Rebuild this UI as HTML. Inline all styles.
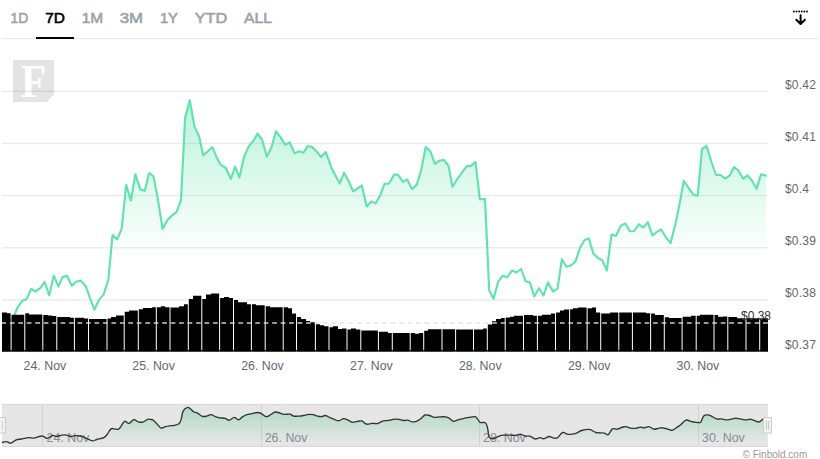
<!DOCTYPE html><html><head><meta charset="utf-8"><style>html,body{margin:0;padding:0;background:#fff;width:820px;height:459px;overflow:hidden}svg{display:block}text{font-family:"Liberation Sans",sans-serif}</style></head><body>
<svg width="820" height="459" viewBox="0 0 820 459">
<defs>
<linearGradient id="ga" gradientUnits="userSpaceOnUse" x1="0" y1="95" x2="0" y2="258"><stop offset="0" stop-color="#5ee3aa" stop-opacity="0.45"/><stop offset="1" stop-color="#5ee3aa" stop-opacity="0"/></linearGradient>
<linearGradient id="gn" gradientUnits="userSpaceOnUse" x1="0" y1="406" x2="0" y2="442"><stop offset="0" stop-color="#5ec89a" stop-opacity="0.45"/><stop offset="1" stop-color="#5ec89a" stop-opacity="0"/></linearGradient>
<clipPath id="cp"><rect x="2" y="38" width="766" height="313"/></clipPath>
</defs>
<text x="10.5" y="23" font-size="15.2" fill="#9ba1ab" stroke="#9ba1ab" stroke-width="0.6" textLength="17.7" lengthAdjust="spacingAndGlyphs">1D</text>
<text x="45.3" y="23" font-size="15.2" fill="#000" stroke="#000" stroke-width="0.6" textLength="19.7" lengthAdjust="spacingAndGlyphs">7D</text>
<text x="81.7" y="23" font-size="15.2" fill="#9ba1ab" stroke="#9ba1ab" stroke-width="0.6" textLength="21.4" lengthAdjust="spacingAndGlyphs">1M</text>
<text x="119.7" y="23" font-size="15.2" fill="#9ba1ab" stroke="#9ba1ab" stroke-width="0.6" textLength="23.4" lengthAdjust="spacingAndGlyphs">3M</text>
<text x="159.9" y="23" font-size="15.2" fill="#9ba1ab" stroke="#9ba1ab" stroke-width="0.6" textLength="18.1" lengthAdjust="spacingAndGlyphs">1Y</text>
<text x="194.7" y="23" font-size="15.2" fill="#9ba1ab" stroke="#9ba1ab" stroke-width="0.6" textLength="32.6" lengthAdjust="spacingAndGlyphs">YTD</text>
<text x="243.9" y="23" font-size="15.2" fill="#9ba1ab" stroke="#9ba1ab" stroke-width="0.6" textLength="28.1" lengthAdjust="spacingAndGlyphs">ALL</text>
<rect x="2" y="38" width="816" height="1" fill="#e6e8ec"/>
<rect x="36" y="37" width="38" height="2" fill="#000"/>
<circle cx="793.9" cy="11.5" r="0.95" fill="#000"/>
<circle cx="796.52" cy="11.5" r="0.95" fill="#000"/>
<circle cx="799.14" cy="11.5" r="0.95" fill="#000"/>
<circle cx="801.76" cy="11.5" r="0.95" fill="#000"/>
<circle cx="804.38" cy="11.5" r="0.95" fill="#000"/>
<circle cx="807" cy="11.5" r="0.95" fill="#000"/>
<path d="M800.6 15.2 V23.8 M796.3 19.7 L800.6 24 L804.9 19.7" fill="none" stroke="#000" stroke-width="2" stroke-linecap="round" stroke-linejoin="round"/>
<path d="M13 60 H54 V94 L47 102 H13 Z" fill="#e4e4e4"/>
<text x="21" y="97" font-size="47" font-weight="bold" fill="#fff" textLength="25" lengthAdjust="spacingAndGlyphs" style="font-family:'Liberation Serif',serif">F</text>
<rect x="2" y="90.7" width="766" height="1.3" fill="#000" fill-opacity="0.085"/>
<rect x="2" y="142.84" width="766" height="1.3" fill="#000" fill-opacity="0.085"/>
<rect x="2" y="194.98" width="766" height="1.3" fill="#000" fill-opacity="0.085"/>
<rect x="2" y="247.12" width="766" height="1.3" fill="#000" fill-opacity="0.085"/>
<rect x="2" y="299.26" width="766" height="1.3" fill="#000" fill-opacity="0.085"/>
<g clip-path="url(#cp)">
<path d="M2 334 L7 326 L11 320 L14.7 314.5 L17.6 307.5 L22.1 301 L26.7 298.9 L31.3 288.9 L35.4 291.5 L40.5 287.9 L44.6 282 L49.2 295.5 L53.8 275.5 L58.4 286.7 L62.5 277.1 L66.9 275.7 L71.8 285.8 L76.1 281.8 L80.8 280.6 L85.7 286.2 L90 298 L94.4 309.7 L98.8 300.1 L103.7 294.4 L108.4 279.2 L112.5 235.1 L117.2 239.4 L121.7 228.6 L126.2 185.1 L130.9 200.6 L135.4 174.3 L140.3 189.4 L144.8 190.8 L149.1 173.1 L153.4 176.1 L157.9 199.2 L162.6 229 L167.5 219.9 L172.2 215.3 L176.5 212.2 L181 200 L185.1 117.9 L189.8 100.4 L194.5 126.6 L199 136.1 L203.2 155.3 L207.8 151.2 L212.4 147.1 L216.8 157.9 L221.1 165.2 L225.8 168 L230.9 179 L235.1 166.6 L239.4 177.5 L244.1 156.6 L248.9 146.1 L253.3 140.9 L257.6 133.6 L262 139.5 L266.9 156.6 L271.6 147 L275.9 131.3 L280.6 137.1 L285.1 144.7 L289.8 142.6 L294.6 153.4 L299.1 151.3 L303.5 152.6 L307.8 146.2 L311.8 146.9 L316.9 151.8 L321.2 157 L325.8 152.1 L331.3 167.4 L335.7 176.1 L339.7 183.6 L344.1 172.7 L348.4 180.8 L353.1 191.3 L357.5 188.4 L361.8 185.4 L366.7 206.5 L371.4 201.5 L375.8 203.2 L380.3 194.9 L384.5 183.9 L389 183.5 L394.3 174.5 L398.1 174.8 L403 181.8 L407.3 179.5 L412 189.1 L416.7 184.9 L421.1 170.5 L425.7 147 L430.4 151.3 L434.9 163.8 L439.8 160.5 L443.8 160 L448.5 165.8 L452.5 186.7 L457.2 179.2 L461.9 172.7 L466.8 166.1 L471.1 166.1 L475.5 161.8 L479.8 199.2 L485 198.9 L489.2 290.6 L493.6 298.8 L498.1 281.8 L503 275.5 L507 277.5 L511.9 270.6 L516.2 272.5 L521.1 269 L525.6 281.4 L529.9 282.4 L534.2 296.5 L539 288.2 L543.5 295.5 L548.1 282.4 L553 291.6 L557.5 288.6 L561.9 259.2 L566.4 266.7 L570.9 265.5 L575.6 261.2 L580.1 247.5 L584.6 240 L588.9 238.6 L593.4 253.7 L598.3 258.3 L602.3 260.4 L606.8 270.5 L611.5 234.5 L615.9 236 L620.8 225.8 L625.5 223.5 L629.8 231.3 L634.2 231 L638.9 224.4 L643.4 227.5 L647.8 222.1 L652.5 235.7 L656.8 231.9 L661.1 229.3 L665.8 237.1 L670.6 243.1 L675.4 223.9 L679 207.1 L683.8 180.8 L688.6 188 L693.4 194.7 L697.7 195.6 L702 149.2 L706.6 146 L711.3 161.5 L716 175 L720.6 175 L725.3 178.6 L729.6 175.7 L734 167.1 L738.3 170.4 L743.2 178.8 L747.4 175.3 L751.9 180.5 L756.6 188.9 L761 174.4 L765.9 175.7 L765.9 351 L2 351 Z" fill="url(#ga)"/>
<path d="M2 334 L7 326 L11 320 L14.7 314.5 L17.6 307.5 L22.1 301 L26.7 298.9 L31.3 288.9 L35.4 291.5 L40.5 287.9 L44.6 282 L49.2 295.5 L53.8 275.5 L58.4 286.7 L62.5 277.1 L66.9 275.7 L71.8 285.8 L76.1 281.8 L80.8 280.6 L85.7 286.2 L90 298 L94.4 309.7 L98.8 300.1 L103.7 294.4 L108.4 279.2 L112.5 235.1 L117.2 239.4 L121.7 228.6 L126.2 185.1 L130.9 200.6 L135.4 174.3 L140.3 189.4 L144.8 190.8 L149.1 173.1 L153.4 176.1 L157.9 199.2 L162.6 229 L167.5 219.9 L172.2 215.3 L176.5 212.2 L181 200 L185.1 117.9 L189.8 100.4 L194.5 126.6 L199 136.1 L203.2 155.3 L207.8 151.2 L212.4 147.1 L216.8 157.9 L221.1 165.2 L225.8 168 L230.9 179 L235.1 166.6 L239.4 177.5 L244.1 156.6 L248.9 146.1 L253.3 140.9 L257.6 133.6 L262 139.5 L266.9 156.6 L271.6 147 L275.9 131.3 L280.6 137.1 L285.1 144.7 L289.8 142.6 L294.6 153.4 L299.1 151.3 L303.5 152.6 L307.8 146.2 L311.8 146.9 L316.9 151.8 L321.2 157 L325.8 152.1 L331.3 167.4 L335.7 176.1 L339.7 183.6 L344.1 172.7 L348.4 180.8 L353.1 191.3 L357.5 188.4 L361.8 185.4 L366.7 206.5 L371.4 201.5 L375.8 203.2 L380.3 194.9 L384.5 183.9 L389 183.5 L394.3 174.5 L398.1 174.8 L403 181.8 L407.3 179.5 L412 189.1 L416.7 184.9 L421.1 170.5 L425.7 147 L430.4 151.3 L434.9 163.8 L439.8 160.5 L443.8 160 L448.5 165.8 L452.5 186.7 L457.2 179.2 L461.9 172.7 L466.8 166.1 L471.1 166.1 L475.5 161.8 L479.8 199.2 L485 198.9 L489.2 290.6 L493.6 298.8 L498.1 281.8 L503 275.5 L507 277.5 L511.9 270.6 L516.2 272.5 L521.1 269 L525.6 281.4 L529.9 282.4 L534.2 296.5 L539 288.2 L543.5 295.5 L548.1 282.4 L553 291.6 L557.5 288.6 L561.9 259.2 L566.4 266.7 L570.9 265.5 L575.6 261.2 L580.1 247.5 L584.6 240 L588.9 238.6 L593.4 253.7 L598.3 258.3 L602.3 260.4 L606.8 270.5 L611.5 234.5 L615.9 236 L620.8 225.8 L625.5 223.5 L629.8 231.3 L634.2 231 L638.9 224.4 L643.4 227.5 L647.8 222.1 L652.5 235.7 L656.8 231.9 L661.1 229.3 L665.8 237.1 L670.6 243.1 L675.4 223.9 L679 207.1 L683.8 180.8 L688.6 188 L693.4 194.7 L697.7 195.6 L702 149.2 L706.6 146 L711.3 161.5 L716 175 L720.6 175 L725.3 178.6 L729.6 175.7 L734 167.1 L738.3 170.4 L743.2 178.8 L747.4 175.3 L751.9 180.5 L756.6 188.9 L761 174.4 L765.9 175.7" fill="none" stroke="#62e2ac" stroke-width="2.15" stroke-linejoin="round" stroke-linecap="round"/>
</g>
<path d="M2 351.5 V312.6 H7 V313.3 H10.6 V351.5 Z M11.6 351.5 V314.7 H16 V314.7 H20 V314.7 H24.3 V351.5 Z M25.3 351.5 V313.2 H29 V314.4 H34 V314.4 H38 V314.5 H42.3 V351.5 Z M43.3 351.5 V315 H48 V315.6 H52 V316 H56.3 V351.5 Z M57.3 351.5 V317.1 H61 V317.1 H66 V317.1 H70 V317.8 H73.9 V351.5 Z M74.9 351.5 V317.8 H79 V317.8 H84 V318.5 H88 V351.5 Z M89 351.5 V319 H93 V319 H97 V319 H102 V319 H106.5 V351.5 Z M107.5 351.5 V318.5 H111 V317 H116 V315.6 H120 V315.4 H123.7 V351.5 Z M124.7 351.5 V311.8 H129 V310.6 H134 V310.6 H137.8 V351.5 Z M138.8 351.5 V309.2 H143 V308.1 H147 V308.1 H152 V307.2 H155.8 V351.5 Z M156.8 351.5 V307.2 H161 V306.2 H165 V307.2 H169.5 V351.5 Z M170.5 351.5 V307.4 H174 V307.4 H179 V306.2 H184 V304.2 H187.8 V351.5 Z M188.8 351.5 V299.1 H193 V295.7 H197 V295.7 H201.3 V351.5 Z M202.3 351.5 V299.1 H206 V294.6 H211 V293.6 H215 V293.6 H219.1 V351.5 Z M220.1 351.5 V297.9 H224 V296.9 H229 V297.9 H233 V351.5 Z M234 351.5 V300.1 H238 V302.3 H242 V302.3 H247 V304.2 H250.9 V351.5 Z M251.9 351.5 V304.2 H256 V305.2 H261 V305.2 H264.7 V351.5 Z M265.7 351.5 V306.2 H270 V307.2 H274 V307.2 H279 V307.2 H282.7 V351.5 Z M283.7 351.5 V307.2 H288 V308.2 H292 V313.5 H296 V351.5 Z M297 351.5 V317 H301 V318.9 H306 V321.1 H310 V322.3 H314.9 V351.5 Z M315.9 351.5 V324.3 H320 V325.2 H324 V326.2 H328.5 V351.5 Z M329.5 351.5 V327.2 H333 V326.2 H338 V329.1 H342 V328.4 H346.5 V351.5 Z M347.5 351.5 V329.6 H351 V328.6 H356 V329.4 H360.3 V351.5 Z M361.3 351.5 V330.6 H365 V330.6 H369 V330.6 H374 V330.6 H377.9 V351.5 Z M378.9 351.5 V331.8 H383 V331.8 H388 V333 H391.8 V351.5 Z M392.8 351.5 V333 H397 V333 H401 V333 H406 V333 H409.7 V351.5 Z M410.7 351.5 V333 H415 V333.8 H419 V333 H423.2 V351.5 Z M424.2 351.5 V330.7 H428 V329.3 H433 V329.3 H437 V329.3 H441.5 V351.5 Z M442.5 351.5 V329.3 H446 V329.3 H451 V329.3 H455.1 V351.5 Z M456.1 351.5 V329.5 H460 V329.5 H465 V329.5 H469 V329.5 H473 V351.5 Z M474 351.5 V329.5 H478 V329.5 H483 V328.5 H486.8 V351.5 Z M487.8 351.5 V324.4 H492 V321.3 H496 V319 H501 V318.1 H504.7 V351.5 Z M505.7 351.5 V317.6 H510 V316.7 H514 V315.7 H519 V315.7 H523 V351.5 Z M524 351.5 V315 H528 V315 H533 V315.7 H536.9 V351.5 Z M537.9 351.5 V315.7 H542 V314.7 H546 V314.7 H551 V313.5 H555 V351.5 Z M556 351.5 V312.4 H560 V310.4 H564 V309.4 H569.1 V351.5 Z M570.1 351.5 V309.2 H573 V308.3 H578 V307.4 H582 V307.4 H586.6 V351.5 Z M587.6 351.5 V308.3 H592 V307.4 H596 V312.6 H600.2 V351.5 Z M601.2 351.5 V313.6 H605 V313.6 H610 V312.6 H614 V312.6 H618.3 V351.5 Z M619.3 351.5 V312.6 H623 V312.6 H628 V312.6 H631.9 V351.5 Z M632.9 351.5 V312.6 H637 V312.6 H641 V312.6 H646 V313.3 H650.1 V351.5 Z M651.1 351.5 V313.5 H655 V315 H660 V315 H663.8 V351.5 Z M664.8 351.5 V317.2 H669 V317.9 H673 V317.9 H678 V317.9 H681.6 V351.5 Z M682.6 351.5 V316.7 H687 V316.7 H691 V315.7 H695.7 V351.5 Z M696.7 351.5 V315.7 H700 V314.8 H705 V314.7 H709 V314.7 H713.5 V351.5 Z M714.5 351.5 V315 H718 V316.7 H723 V316.6 H727.3 V351.5 Z M728.3 351.5 V317 H732 V317 H737 V318.3 H741 V318.3 H745.5 V351.5 Z M746.5 351.5 V318.3 H750 V318.3 H755 V318.3 H759.2 V351.5 Z M760.2 351.5 V318.3 H764 V318.3 H768 V351.5 Z" fill="#000"/>
<rect x="2" y="350" width="766" height="1.5" fill="#000"/>
<line x1="2" y1="322.9" x2="768" y2="322.9" stroke="#e2e2e2" stroke-opacity="0.9" stroke-width="1.5" stroke-dasharray="4.7 3.763" stroke-dashoffset="0.6"/>
<text x="785" y="89" font-size="12" fill="#666" letter-spacing="0.2">$0.42</text>
<text x="785" y="141" font-size="12" fill="#666" letter-spacing="0.2">$0.41</text>
<text x="785" y="193" font-size="12" fill="#666" letter-spacing="0.2">$0.4</text>
<text x="785" y="245" font-size="12" fill="#666" letter-spacing="0.2">$0.39</text>
<text x="785" y="297" font-size="12" fill="#666" letter-spacing="0.2">$0.38</text>
<text x="785" y="349" font-size="12" fill="#666" letter-spacing="0.2">$0.37</text>
<text x="741" y="319.5" font-size="12" fill="#333">$0.38</text>
<text x="23.6" y="370" font-size="12" fill="#666" textLength="42.6" lengthAdjust="spacingAndGlyphs">24. Nov</text>
<text x="132.3" y="370" font-size="12" fill="#666" textLength="42.6" lengthAdjust="spacingAndGlyphs">25. Nov</text>
<text x="241.2" y="370" font-size="12" fill="#666" textLength="42.6" lengthAdjust="spacingAndGlyphs">26. Nov</text>
<text x="350.1" y="370" font-size="12" fill="#666" textLength="42.6" lengthAdjust="spacingAndGlyphs">27. Nov</text>
<text x="459" y="370" font-size="12" fill="#666" textLength="42.6" lengthAdjust="spacingAndGlyphs">28. Nov</text>
<text x="567.9" y="370" font-size="12" fill="#666" textLength="42.6" lengthAdjust="spacingAndGlyphs">29. Nov</text>
<text x="676.6" y="370" font-size="12" fill="#666" textLength="42.6" lengthAdjust="spacingAndGlyphs">30. Nov</text>
<rect x="2" y="404" width="766" height="43" fill="#e6e6e6"/>
<rect x="2" y="404" width="766" height="1" fill="#d8d8d8"/>
<rect x="2" y="446" width="766" height="1" fill="#d8d8d8"/>
<rect x="42" y="405" width="1" height="41" fill="#d2d2d2"/>
<rect x="261" y="405" width="1" height="41" fill="#d2d2d2"/>
<rect x="479" y="405" width="1" height="41" fill="#d2d2d2"/>
<rect x="698" y="405" width="1" height="41" fill="#d2d2d2"/>
<path d="M2 442.5 C2.75 442.35 5.02 441.5 6.5 441.6 C7.98 441.7 9.27 443.4 10.9 443.1 C12.53 442.8 14.48 440.48 16.3 439.8 C18.12 439.12 19.7 439.37 21.8 439 C23.9 438.63 26.9 437.75 28.9 437.6 C30.9 437.45 31.62 438.37 33.8 438.1 C35.98 437.83 39.73 435.95 42 436 C44.27 436.05 45.68 438.5 47.4 438.4 C49.12 438.3 50.75 435.72 52.3 435.4 C53.85 435.08 55.07 436.55 56.7 436.5 C58.33 436.45 60.47 435.33 62.1 435.1 C63.73 434.87 65.05 434.87 66.5 435.1 C67.95 435.33 69.38 436.42 70.8 436.5 C72.22 436.58 73.4 435.68 75 435.6 C76.6 435.52 78.58 435.58 80.4 436 C82.22 436.42 83.9 437.28 85.9 438.1 C87.9 438.92 90.58 440.67 92.4 440.9 C94.22 441.13 94.88 440.05 96.8 439.5 C98.72 438.95 102.17 438.47 103.9 437.6 C105.63 436.73 106.02 435.75 107.2 434.3 C108.38 432.85 109.83 429.8 111 428.9 C112.17 428 112.93 428.85 114.2 428.9 C115.47 428.95 117.42 429.7 118.6 429.2 C119.78 428.7 120.3 427.22 121.3 425.9 C122.3 424.58 123.32 421.72 124.6 421.3 C125.88 420.88 127.45 423.68 129 423.4 C130.55 423.12 132.37 419.87 133.9 419.6 C135.43 419.33 136.67 421.38 138.2 421.8 C139.73 422.22 141.55 422.5 143.1 422.1 C144.65 421.7 146.27 419.85 147.5 419.4 C148.73 418.95 149.53 419.27 150.5 419.4 C151.47 419.53 152.2 419.43 153.3 420.2 C154.4 420.97 155.83 422.68 157.1 424 C158.37 425.32 159.53 427.65 160.9 428.1 C162.27 428.55 163.85 427.08 165.3 426.7 C166.75 426.32 168.07 426.03 169.6 425.8 C171.13 425.57 172.95 425.63 174.5 425.3 C176.05 424.97 177.8 424.75 178.9 423.8 C180 422.85 180.38 421.75 181.1 419.6 C181.82 417.45 182.12 412.93 183.2 410.9 C184.28 408.87 186.42 407.77 187.6 407.4 C188.78 407.03 189.3 407.97 190.3 408.7 C191.3 409.43 192.42 411.07 193.6 411.8 C194.78 412.53 195.95 412.35 197.4 413.1 C198.85 413.85 200.75 415.8 202.3 416.3 C203.85 416.8 205.25 416.37 206.7 416.1 C208.15 415.83 209.55 414.62 211 414.7 C212.45 414.78 213.93 416.08 215.4 416.6 C216.87 417.12 218.18 417.5 219.8 417.8 C221.42 418.1 223.5 418 225.1 418.4 C226.7 418.8 227.87 420.37 229.4 420.2 C230.93 420.03 232.77 417.47 234.3 417.4 C235.83 417.33 237.25 419.88 238.6 419.8 C239.95 419.72 241.03 417.75 242.4 416.9 C243.77 416.05 245.17 415.25 246.8 414.7 C248.43 414.15 250.38 413.97 252.2 413.6 C254.02 413.23 256.15 412.5 257.7 412.5 C259.25 412.5 260.13 412.92 261.5 413.6 C262.87 414.28 264.53 416.32 265.9 416.6 C267.27 416.88 268.17 416.07 269.7 415.3 C271.23 414.53 273.28 412.33 275.1 412 C276.92 411.67 278.97 412.9 280.6 413.3 C282.23 413.7 283.35 414.25 284.9 414.4 C286.45 414.55 288.43 413.92 289.9 414.2 C291.37 414.48 292.17 415.78 293.7 416.1 C295.23 416.42 297.32 416.23 299.1 416.1 C300.88 415.97 302.8 415.58 304.4 415.3 C306 415.02 307.25 414.5 308.7 414.4 C310.15 414.3 311.65 414.42 313.1 414.7 C314.55 414.98 316.03 415.78 317.4 416.1 C318.77 416.42 319.93 416.7 321.3 416.6 C322.67 416.5 324.15 415.32 325.6 415.5 C327.05 415.68 328.55 417.05 330 417.7 C331.45 418.35 332.85 418.87 334.3 419.4 C335.75 419.93 337.15 421.02 338.7 420.9 C340.25 420.78 342.05 418.82 343.6 418.7 C345.15 418.58 346.55 419.6 348 420.2 C349.45 420.8 350.85 422.07 352.3 422.3 C353.75 422.53 355.15 421.83 356.7 421.6 C358.25 421.37 359.97 420.47 361.6 420.9 C363.23 421.33 364.78 423.78 366.5 424.2 C368.22 424.62 370.27 423.5 371.9 423.4 C373.53 423.3 375.15 423.65 376.3 423.6 C377.45 423.55 377.65 423.55 378.8 423.1 C379.95 422.65 381.75 421.33 383.2 420.9 C384.65 420.47 386.23 420.62 387.5 420.5 C388.77 420.38 389.7 420.43 390.8 420.2 C391.9 419.97 392.73 419.23 394.1 419.1 C395.47 418.97 397.47 419.17 399 419.4 C400.53 419.63 401.85 420.37 403.3 420.5 C404.75 420.63 406.23 419.98 407.7 420.2 C409.17 420.42 410.65 421.62 412.1 421.8 C413.55 421.98 414.95 421.82 416.4 421.3 C417.85 420.78 419.35 419.75 420.8 418.7 C422.25 417.65 423.65 415.53 425.1 415 C426.55 414.47 427.95 415.1 429.5 415.5 C431.05 415.9 432.77 417.17 434.4 417.4 C436.03 417.63 437.4 416.98 439.3 416.9 C441.2 416.82 444.07 416.63 445.8 416.9 C447.53 417.17 448.43 417.77 449.7 418.5 C450.97 419.23 451.9 421.12 453.4 421.3 C454.9 421.48 456.9 420.1 458.7 419.6 C460.5 419.1 462.47 418.67 464.2 418.3 C465.93 417.93 467.2 417.63 469.1 417.4 C471 417.17 473.78 416.08 475.6 416.9 C477.42 417.72 478.37 421.33 480 422.3 C481.63 423.27 484.13 421.7 485.4 422.7 C486.67 423.7 486.97 425.9 487.6 428.3 C488.23 430.7 488.28 435.37 489.2 437.1 C490.12 438.83 491.82 438.7 493.1 438.7 C494.38 438.7 495.55 437.65 496.9 437.1 C498.25 436.55 499.75 435.73 501.2 435.4 C502.65 435.07 504.05 435.15 505.6 435.1 C507.15 435.05 508.87 435.05 510.5 435.1 C512.13 435.15 513.68 435.53 515.4 435.4 C517.12 435.27 519.17 434.17 520.8 434.3 C522.43 434.43 523.68 435.88 525.2 436.2 C526.72 436.52 528.2 435.73 529.9 436.2 C531.6 436.67 533.77 438.77 535.4 439 C537.03 439.23 538.25 437.65 539.7 437.6 C541.15 437.55 542.55 438.88 544.1 438.7 C545.65 438.52 547.37 436.6 549 436.5 C550.63 436.4 552.45 437.92 553.9 438.1 C555.35 438.28 556.25 438.53 557.7 437.6 C559.15 436.67 560.87 433.05 562.6 432.5 C564.33 431.95 566.02 434.12 568.1 434.3 C570.18 434.48 572.83 434.23 575.1 433.6 C577.37 432.97 579.33 431.2 581.7 430.5 C584.07 429.8 586.95 429.07 589.3 429.4 C591.65 429.73 594.02 431.93 595.8 432.5 C597.58 433.07 598.57 432.68 600 432.8 C601.43 432.92 603.03 432.88 604.4 433.2 C605.77 433.52 606.85 435.42 608.2 434.7 C609.55 433.98 610.97 429.82 612.5 428.9 C614.03 427.98 615.67 429.52 617.4 429.2 C619.13 428.88 621.43 427.42 622.9 427 C624.37 426.58 624.93 426.52 626.2 426.7 C627.47 426.88 628.87 427.83 630.5 428.1 C632.13 428.37 634.37 428.45 636 428.3 C637.63 428.15 638.85 427.28 640.3 427.2 C641.75 427.12 643.25 427.88 644.7 427.8 C646.15 427.72 647.45 426.47 649 426.7 C650.55 426.93 652.45 428.93 654 429.2 C655.55 429.47 656.85 428.53 658.3 428.3 C659.75 428.07 661.25 427.7 662.7 427.8 C664.15 427.9 665.47 428.48 667 428.9 C668.53 429.32 670.35 430.48 671.9 430.3 C673.45 430.12 674.87 428.68 676.3 427.8 C677.73 426.92 678.88 426.28 680.5 425 C682.12 423.72 684.17 420.65 686 420.1 C687.83 419.55 689.78 421.33 691.5 421.7 C693.22 422.07 694.78 422.22 696.3 422.3 C697.82 422.38 699.37 423.27 700.6 422.2 C701.83 421.13 702.48 417.12 703.7 415.9 C704.92 414.68 706.68 414.9 707.9 414.9 C709.12 414.9 709.57 415.23 711 415.9 C712.43 416.57 714.78 418.4 716.5 418.9 C718.22 419.4 719.48 418.73 721.3 418.9 C723.12 419.07 725.15 420 727.4 419.9 C729.65 419.8 732.67 418.47 734.8 418.3 C736.93 418.13 738.38 418.63 740.2 418.9 C742.02 419.17 743.87 419.83 745.7 419.9 C747.53 419.97 749.07 418.95 751.2 419.3 C753.33 419.65 756.57 422 758.5 422 C760.43 422 761.55 420.05 762.8 419.3 C764.05 418.55 765.47 417.8 766 417.5 L766 446 L2 446 Z" fill="url(#gn)"/>
<text x="46.5" y="442" font-size="12" fill="#878b92" textLength="42.8" lengthAdjust="spacingAndGlyphs">24. Nov</text>
<text x="264.7" y="442" font-size="12" fill="#878b92" textLength="42.8" lengthAdjust="spacingAndGlyphs">26. Nov</text>
<text x="483" y="442" font-size="12" fill="#878b92" textLength="42.8" lengthAdjust="spacingAndGlyphs">28. Nov</text>
<text x="702" y="442" font-size="12" fill="#878b92" textLength="42.8" lengthAdjust="spacingAndGlyphs">30. Nov</text>
<path d="M2 442.5 C2.75 442.35 5.02 441.5 6.5 441.6 C7.98 441.7 9.27 443.4 10.9 443.1 C12.53 442.8 14.48 440.48 16.3 439.8 C18.12 439.12 19.7 439.37 21.8 439 C23.9 438.63 26.9 437.75 28.9 437.6 C30.9 437.45 31.62 438.37 33.8 438.1 C35.98 437.83 39.73 435.95 42 436 C44.27 436.05 45.68 438.5 47.4 438.4 C49.12 438.3 50.75 435.72 52.3 435.4 C53.85 435.08 55.07 436.55 56.7 436.5 C58.33 436.45 60.47 435.33 62.1 435.1 C63.73 434.87 65.05 434.87 66.5 435.1 C67.95 435.33 69.38 436.42 70.8 436.5 C72.22 436.58 73.4 435.68 75 435.6 C76.6 435.52 78.58 435.58 80.4 436 C82.22 436.42 83.9 437.28 85.9 438.1 C87.9 438.92 90.58 440.67 92.4 440.9 C94.22 441.13 94.88 440.05 96.8 439.5 C98.72 438.95 102.17 438.47 103.9 437.6 C105.63 436.73 106.02 435.75 107.2 434.3 C108.38 432.85 109.83 429.8 111 428.9 C112.17 428 112.93 428.85 114.2 428.9 C115.47 428.95 117.42 429.7 118.6 429.2 C119.78 428.7 120.3 427.22 121.3 425.9 C122.3 424.58 123.32 421.72 124.6 421.3 C125.88 420.88 127.45 423.68 129 423.4 C130.55 423.12 132.37 419.87 133.9 419.6 C135.43 419.33 136.67 421.38 138.2 421.8 C139.73 422.22 141.55 422.5 143.1 422.1 C144.65 421.7 146.27 419.85 147.5 419.4 C148.73 418.95 149.53 419.27 150.5 419.4 C151.47 419.53 152.2 419.43 153.3 420.2 C154.4 420.97 155.83 422.68 157.1 424 C158.37 425.32 159.53 427.65 160.9 428.1 C162.27 428.55 163.85 427.08 165.3 426.7 C166.75 426.32 168.07 426.03 169.6 425.8 C171.13 425.57 172.95 425.63 174.5 425.3 C176.05 424.97 177.8 424.75 178.9 423.8 C180 422.85 180.38 421.75 181.1 419.6 C181.82 417.45 182.12 412.93 183.2 410.9 C184.28 408.87 186.42 407.77 187.6 407.4 C188.78 407.03 189.3 407.97 190.3 408.7 C191.3 409.43 192.42 411.07 193.6 411.8 C194.78 412.53 195.95 412.35 197.4 413.1 C198.85 413.85 200.75 415.8 202.3 416.3 C203.85 416.8 205.25 416.37 206.7 416.1 C208.15 415.83 209.55 414.62 211 414.7 C212.45 414.78 213.93 416.08 215.4 416.6 C216.87 417.12 218.18 417.5 219.8 417.8 C221.42 418.1 223.5 418 225.1 418.4 C226.7 418.8 227.87 420.37 229.4 420.2 C230.93 420.03 232.77 417.47 234.3 417.4 C235.83 417.33 237.25 419.88 238.6 419.8 C239.95 419.72 241.03 417.75 242.4 416.9 C243.77 416.05 245.17 415.25 246.8 414.7 C248.43 414.15 250.38 413.97 252.2 413.6 C254.02 413.23 256.15 412.5 257.7 412.5 C259.25 412.5 260.13 412.92 261.5 413.6 C262.87 414.28 264.53 416.32 265.9 416.6 C267.27 416.88 268.17 416.07 269.7 415.3 C271.23 414.53 273.28 412.33 275.1 412 C276.92 411.67 278.97 412.9 280.6 413.3 C282.23 413.7 283.35 414.25 284.9 414.4 C286.45 414.55 288.43 413.92 289.9 414.2 C291.37 414.48 292.17 415.78 293.7 416.1 C295.23 416.42 297.32 416.23 299.1 416.1 C300.88 415.97 302.8 415.58 304.4 415.3 C306 415.02 307.25 414.5 308.7 414.4 C310.15 414.3 311.65 414.42 313.1 414.7 C314.55 414.98 316.03 415.78 317.4 416.1 C318.77 416.42 319.93 416.7 321.3 416.6 C322.67 416.5 324.15 415.32 325.6 415.5 C327.05 415.68 328.55 417.05 330 417.7 C331.45 418.35 332.85 418.87 334.3 419.4 C335.75 419.93 337.15 421.02 338.7 420.9 C340.25 420.78 342.05 418.82 343.6 418.7 C345.15 418.58 346.55 419.6 348 420.2 C349.45 420.8 350.85 422.07 352.3 422.3 C353.75 422.53 355.15 421.83 356.7 421.6 C358.25 421.37 359.97 420.47 361.6 420.9 C363.23 421.33 364.78 423.78 366.5 424.2 C368.22 424.62 370.27 423.5 371.9 423.4 C373.53 423.3 375.15 423.65 376.3 423.6 C377.45 423.55 377.65 423.55 378.8 423.1 C379.95 422.65 381.75 421.33 383.2 420.9 C384.65 420.47 386.23 420.62 387.5 420.5 C388.77 420.38 389.7 420.43 390.8 420.2 C391.9 419.97 392.73 419.23 394.1 419.1 C395.47 418.97 397.47 419.17 399 419.4 C400.53 419.63 401.85 420.37 403.3 420.5 C404.75 420.63 406.23 419.98 407.7 420.2 C409.17 420.42 410.65 421.62 412.1 421.8 C413.55 421.98 414.95 421.82 416.4 421.3 C417.85 420.78 419.35 419.75 420.8 418.7 C422.25 417.65 423.65 415.53 425.1 415 C426.55 414.47 427.95 415.1 429.5 415.5 C431.05 415.9 432.77 417.17 434.4 417.4 C436.03 417.63 437.4 416.98 439.3 416.9 C441.2 416.82 444.07 416.63 445.8 416.9 C447.53 417.17 448.43 417.77 449.7 418.5 C450.97 419.23 451.9 421.12 453.4 421.3 C454.9 421.48 456.9 420.1 458.7 419.6 C460.5 419.1 462.47 418.67 464.2 418.3 C465.93 417.93 467.2 417.63 469.1 417.4 C471 417.17 473.78 416.08 475.6 416.9 C477.42 417.72 478.37 421.33 480 422.3 C481.63 423.27 484.13 421.7 485.4 422.7 C486.67 423.7 486.97 425.9 487.6 428.3 C488.23 430.7 488.28 435.37 489.2 437.1 C490.12 438.83 491.82 438.7 493.1 438.7 C494.38 438.7 495.55 437.65 496.9 437.1 C498.25 436.55 499.75 435.73 501.2 435.4 C502.65 435.07 504.05 435.15 505.6 435.1 C507.15 435.05 508.87 435.05 510.5 435.1 C512.13 435.15 513.68 435.53 515.4 435.4 C517.12 435.27 519.17 434.17 520.8 434.3 C522.43 434.43 523.68 435.88 525.2 436.2 C526.72 436.52 528.2 435.73 529.9 436.2 C531.6 436.67 533.77 438.77 535.4 439 C537.03 439.23 538.25 437.65 539.7 437.6 C541.15 437.55 542.55 438.88 544.1 438.7 C545.65 438.52 547.37 436.6 549 436.5 C550.63 436.4 552.45 437.92 553.9 438.1 C555.35 438.28 556.25 438.53 557.7 437.6 C559.15 436.67 560.87 433.05 562.6 432.5 C564.33 431.95 566.02 434.12 568.1 434.3 C570.18 434.48 572.83 434.23 575.1 433.6 C577.37 432.97 579.33 431.2 581.7 430.5 C584.07 429.8 586.95 429.07 589.3 429.4 C591.65 429.73 594.02 431.93 595.8 432.5 C597.58 433.07 598.57 432.68 600 432.8 C601.43 432.92 603.03 432.88 604.4 433.2 C605.77 433.52 606.85 435.42 608.2 434.7 C609.55 433.98 610.97 429.82 612.5 428.9 C614.03 427.98 615.67 429.52 617.4 429.2 C619.13 428.88 621.43 427.42 622.9 427 C624.37 426.58 624.93 426.52 626.2 426.7 C627.47 426.88 628.87 427.83 630.5 428.1 C632.13 428.37 634.37 428.45 636 428.3 C637.63 428.15 638.85 427.28 640.3 427.2 C641.75 427.12 643.25 427.88 644.7 427.8 C646.15 427.72 647.45 426.47 649 426.7 C650.55 426.93 652.45 428.93 654 429.2 C655.55 429.47 656.85 428.53 658.3 428.3 C659.75 428.07 661.25 427.7 662.7 427.8 C664.15 427.9 665.47 428.48 667 428.9 C668.53 429.32 670.35 430.48 671.9 430.3 C673.45 430.12 674.87 428.68 676.3 427.8 C677.73 426.92 678.88 426.28 680.5 425 C682.12 423.72 684.17 420.65 686 420.1 C687.83 419.55 689.78 421.33 691.5 421.7 C693.22 422.07 694.78 422.22 696.3 422.3 C697.82 422.38 699.37 423.27 700.6 422.2 C701.83 421.13 702.48 417.12 703.7 415.9 C704.92 414.68 706.68 414.9 707.9 414.9 C709.12 414.9 709.57 415.23 711 415.9 C712.43 416.57 714.78 418.4 716.5 418.9 C718.22 419.4 719.48 418.73 721.3 418.9 C723.12 419.07 725.15 420 727.4 419.9 C729.65 419.8 732.67 418.47 734.8 418.3 C736.93 418.13 738.38 418.63 740.2 418.9 C742.02 419.17 743.87 419.83 745.7 419.9 C747.53 419.97 749.07 418.95 751.2 419.3 C753.33 419.65 756.57 422 758.5 422 C760.43 422 761.55 420.05 762.8 419.3 C764.05 418.55 765.47 417.8 766 417.5" fill="none" stroke="#333" stroke-width="1.35" stroke-linejoin="round"/>
<rect x="-2.5" y="417.5" width="8" height="15.5" fill="#f2f2f2" stroke="#ccc" stroke-width="1"/>
<line x1="2.5" y1="421" x2="2.5" y2="430" stroke="#d0d0d0" stroke-width="1"/>
<rect x="763.5" y="417.5" width="8" height="15.5" fill="#f2f2f2" stroke="#ccc" stroke-width="1"/>
<line x1="766.5" y1="421" x2="766.5" y2="430" stroke="#c8c8c8" stroke-width="1"/>
<line x1="768.5" y1="421" x2="768.5" y2="430" stroke="#c8c8c8" stroke-width="1"/>
<text x="742.6" y="457.5" font-size="10" fill="#999">© Finbold.com</text>
</svg></body></html>
